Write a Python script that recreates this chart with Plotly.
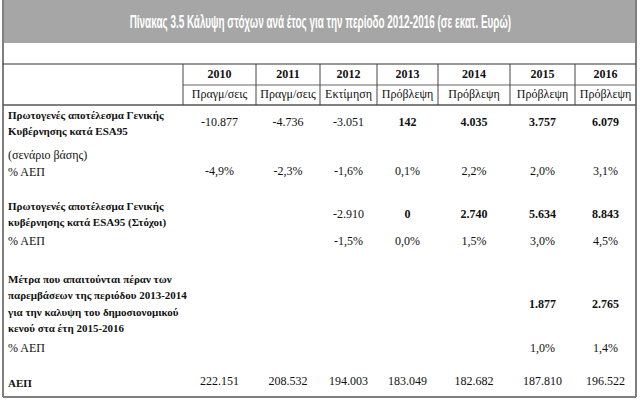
import plotly.graph_objects as go

# ---------------- data ----------------
title = "Πίνακας 3.5 Κάλυψη στόχων ανά έτος για την περίοδο 2012-2016 (σε εκατ. Ευρώ)"
years = ["2010", "2011", "2012", "2013", "2014", "2015", "2016"]
status = ["Πραγμ/σεις", "Πραγμ/σεις", "Εκτίμηση", "Πρόβλεψη", "Πρόβλεψη", "Πρόβλεψη", "Πρόβλεψη"]

primary_base = [-10877, -4736, -3051, 142, 4035, 3757, 6079]
primary_base_pct = [-4.9, -2.3, -1.6, 0.1, 2.2, 2.0, 3.1]
primary_target = [None, None, -2910, 0, 2740, 5634, 8843]
primary_target_pct = [None, None, -1.5, 0.0, 1.5, 3.0, 4.5]
measures = [None, None, None, None, None, 1877, 2765]
measures_pct = [None, None, None, None, None, 1.0, 1.4]
gdp = [222151, 208532, 194003, 183049, 182682, 187810, 196522]

label_base = ["Πρωτογενές αποτέλεσμα Γενικής", "Κυβέρνησης κατά ESA95"]
label_base_note = "(σενάριο βάσης)"
label_target = ["Πρωτογενές αποτέλεσμα Γενικής", "κυβέρνησης κατά ESA95 (Στόχοι)"]
label_measures = ["Μέτρα που απαιτούνται πέραν των",
                  "παρεμβάσεων της περιόδου 2013-2014",
                  "για την καλυψη του δημοσιονομικού",
                  "κενού στα έτη 2015-2016"]
label_pct = "% ΑΕΠ"
label_gdp = "ΑΕΠ"

# ---------------- helpers ----------------
def fmt_num(v):
    if v is None:
        return ""
    return format(v, ",").replace(",", ".")

def fmt_pct(v):
    if v is None:
        return ""
    return (f"{v:.1f}".replace(".", ",")) + "%"

SERIF = "Liberation Serif, Times New Roman, serif"
col_edges = [183, 256, 320, 377, 438, 510, 575, 636]
col_x = [(col_edges[i] + col_edges[i + 1]) / 2 for i in range(7)]
LEFT, RIGHT = 3, 636
INK = "#111111"

fig = go.Figure()

def row(texts, y, bold_from=None, size=12):
    out = []
    for i, t in enumerate(texts):
        if t and bold_from is not None and i >= bold_from:
            t = "<b>" + t + "</b>"
        out.append(t)
    fig.add_trace(go.Scatter(
        x=col_x, y=[y] * 7, mode="text", text=out,
        textposition="middle center",
        textfont=dict(family=SERIF, size=size, color=INK),
        hoverinfo="skip", showlegend=False))

def label(lines, y0, dy=16.5, bold=True, size=11):
    ys = [y0 + k * dy for k in range(len(lines))]
    txt = [("<b>" + l + "</b>") if bold else l for l in lines]
    fig.add_trace(go.Scatter(
        x=[8] * len(lines), y=ys, mode="text", text=txt,
        textposition="middle right",
        textfont=dict(family=SERIF, size=size, color=INK),
        hoverinfo="skip", showlegend=False))

# header
row(years, 75, bold_from=0)
row(status, 95)

# block 1
label(label_base, 116)
label([label_base_note], 156, bold=False, size=12)
label([label_pct], 173, bold=False, size=12)
row([fmt_num(v) for v in primary_base], 123, bold_from=3)
row([fmt_pct(v) for v in primary_base_pct], 172)

# block 2
label(label_target, 207)
label([label_pct], 242, bold=False, size=12)
row([fmt_num(v) for v in primary_target], 215, bold_from=3)
row([fmt_pct(v) for v in primary_target_pct], 242)

# block 3
label(label_measures, 280)
label([label_pct], 349, bold=False, size=12)
row([fmt_num(v) for v in measures], 305, bold_from=0)
row([fmt_pct(v) for v in measures_pct], 349)

# GDP
label([label_gdp], 384)
row([fmt_num(v) for v in gdp], 382)

# ---------------- shapes ----------------
shapes = []
shapes.append(dict(type="rect", x0=LEFT, x1=RIGHT, y0=0, y1=43,
                   fillcolor="#a6a6a6", line=dict(width=0), layer="below"))
for xx in (LEFT, RIGHT):
    shapes.append(dict(type="line", x0=xx, x1=xx, y0=0, y1=397,
                       line=dict(color="#7f7f7f", width=2)))
shapes.append(dict(type="line", x0=LEFT, x1=RIGHT, y0=397, y1=397,
                   line=dict(color="#7f7f7f", width=2)))
shapes.append(dict(type="line", x0=LEFT, x1=RIGHT, y0=64, y1=64,
                   line=dict(color="#333333", width=1.2)))
shapes.append(dict(type="line", x0=col_edges[0], x1=RIGHT, y0=85, y1=85,
                   line=dict(color="#666666", width=1)))
shapes.append(dict(type="line", x0=LEFT, x1=RIGHT, y0=105, y1=105,
                   line=dict(color="#555555", width=1.5)))
for xx in col_edges[:-1]:
    shapes.append(dict(type="line", x0=xx, x1=xx, y0=64, y1=105,
                       line=dict(color="#444444", width=1)))

fig.update_layout(
    width=640, height=400,
    margin=dict(l=0, r=0, t=0, b=0),
    paper_bgcolor="white", plot_bgcolor="white",
    xaxis=dict(range=[0, 640], visible=False, fixedrange=True),
    yaxis=dict(range=[400, 0], visible=False, fixedrange=True),
    shapes=shapes,
    annotations=[dict(
        x=320, y=22, xref="x", yref="y", text="<b>" + title + "</b>", showarrow=False,
        font=dict(family="Liberation Sans, Arial, sans-serif",
                  size=18, color="white"))],
)

post_js = r"""
document.body.style.margin = '0';
document.body.style.overflow = 'hidden';
var gd = document.getElementById('{plot_id}');
var t = gd.querySelector('.annotation-text');
if (t) {
  var w = t.getBBox().width;
  var s = 382 / w;
  t.style.transformBox = 'fill-box';
  t.style.transformOrigin = 'center';
  t.style.transform = 'scaleX(' + s + ')';
}
"""

fig.write_html("out.html", post_script=post_js, config={"displayModeBar": False})
